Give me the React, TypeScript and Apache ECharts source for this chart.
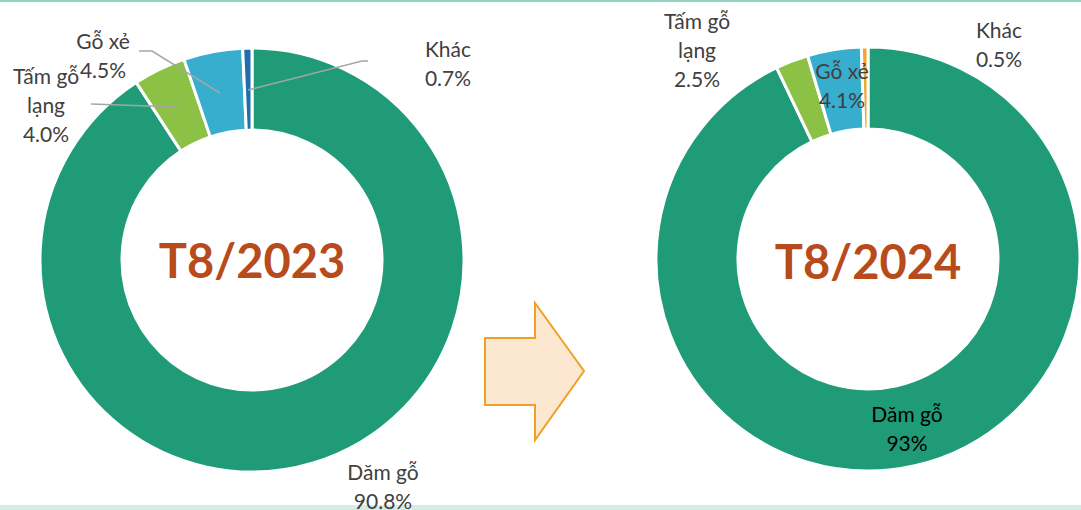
import React, { useEffect, useRef } from "react";
import * as echarts from "echarts";

const categories = ["Dăm gỗ", "Tấm gỗ lạng", "Gỗ xẻ", "Khác"];
const values2023 = [90.8, 4.0, 4.5, 0.7];
const values2024 = [93, 2.5, 4.1, 0.5];
const periods = ["T8/2023", "T8/2024"];

const colors2023 = ["#1f9b78", "#8bc145", "#38aecf", "#1f6fb0"];
const colors2024 = ["#1f9b78", "#8bc145", "#38aecf", "#f2a42b"];

// label layout (text block top-center position) per item
const labelPos2023: { x: number; y: number }[] = [
  { x: 383, y: 457 },
  { x: 46, y: 61 },
  { x: 103, y: 26 },
  { x: 448, y: 34 },
];
const labelPos2024: { x: number; y: number }[] = [
  { x: 907, y: 399 },
  { x: 697, y: 6 },
  { x: 842, y: 56 },
  { x: 999, y: 15 },
];
// leader lines for the 2023 labels
const leaders2023: number[][][] = [
  [[91, 104], [177, 107]],
  [[139, 51], [152, 51], [220, 93]],
  [[368, 61], [362, 61], [248, 90]],
];

const FONT = "Lato, 'Open Sans', sans-serif";

export default function App() {
  const ref = useRef<HTMLDivElement>(null);
  useEffect(() => {
    document.body.style.margin = "0";
    const chart = echarts.init(ref.current!, null, { renderer: "svg" });
    const mk = (
      values: number[],
      colors: string[],
      center: number[],
      pos: { x: number; y: number }[],
      fmt: (v: number) => string,
      labelColors: string[]
    ) => ({
      type: "pie",
      center,
      radius: [130, 212],
      startAngle: 90,
      clockwise: true,
      avoidLabelOverlap: false,
      silent: true,
      itemStyle: { borderColor: "#ffffff", borderWidth: 3 },
      label: {
        show: true,
        position: "outside",
        fontFamily: FONT,
        fontSize: 21,
        lineHeight: 29,
        color: "#404040",
        align: "center",
        formatter: (p: any) => p.name.replace(" lạng", "\nlạng") + "\n" + fmt(p.value),
      },
      labelLine: { show: false },
      labelLayout: (p: any) => {
        const q = pos[p.dataIndex];
        return { x: q.x, y: q.y, align: "center", verticalAlign: "top" };
      },
      data: categories.map((name, i) => ({
        name,
        value: values[i],
        itemStyle: { color: colors[i] },
        label: { color: labelColors[i] },
      })),
    });

    chart.setOption({
      animation: false,
      backgroundColor: "#ffffff",
      series: [
        mk(values2023, colors2023, [252, 260], labelPos2023, (v) => v.toFixed(1) + "%", [
          "#404040",
          "#404040",
          "#404040",
          "#404040",
        ]),
        mk(values2024, colors2024, [868, 259], labelPos2024, (v) => v + "%", [
          "#000000",
          "#404040",
          "#404040",
          "#404040",
        ]),
      ],
      graphic: [
        { type: "rect", shape: { x: 0, y: 0, width: 1081, height: 2 }, style: { fill: "#8fd3c1" } },
        { type: "rect", shape: { x: 0, y: 505, width: 1081, height: 5 }, style: { fill: "#d6ede6" } },
        ...leaders2023.map((pts) => ({
          type: "polyline",
          z: 100,
          shape: { points: pts },
          style: { stroke: "#a6a6a6", lineWidth: 1.5, fill: "none" },
        })),
        {
          type: "polygon",
          shape: {
            points: [
              [485, 338],
              [535, 338],
              [535, 303],
              [584, 371],
              [535, 440],
              [535, 405],
              [485, 405],
            ],
          },
          style: { fill: "#fce8d1", stroke: "#f0a025", lineWidth: 2 },
        },
        {
          type: "text",
          x: 252,
          y: 260,
          style: {
            text: periods[0],
            font: `bold 47px ${FONT}`,
            fill: "#b84b1c",
            align: "center",
            verticalAlign: "middle",
          },
        },
        {
          type: "text",
          x: 868,
          y: 261,
          style: {
            text: periods[1],
            font: `bold 47px ${FONT}`,
            fill: "#b84b1c",
            align: "center",
            verticalAlign: "middle",
          },
        },
      ],
    });
    return () => chart.dispose();
  }, []);
  return <div ref={ref} style={{ width: 1081, height: 510 }} />;
}
